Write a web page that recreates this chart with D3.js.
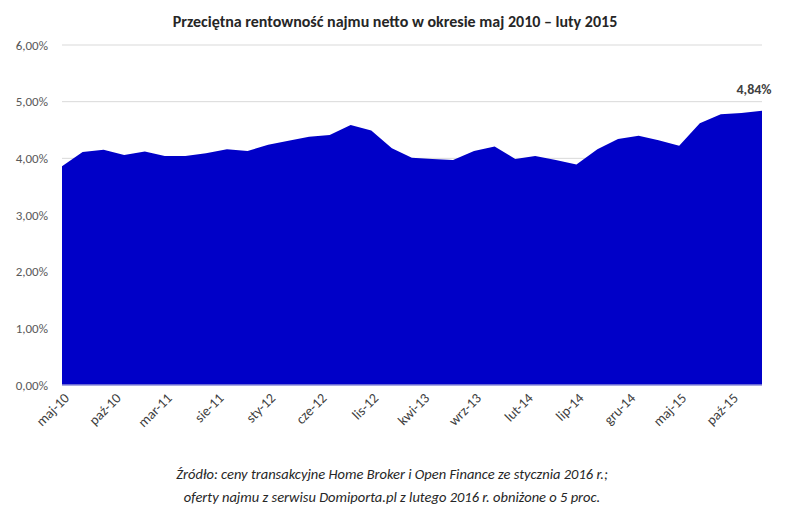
<!DOCTYPE html>
<html>
<head>
<meta charset="utf-8">
<script src="https://cdn.jsdelivr.net/npm/d3@7"></script>
<style>
  body { margin: 0; background: #fff; }
  text { font-family: Carlito, Calibri, "Open Sans", sans-serif; }
</style>
</head>
<body>
<svg id="chart" width="786" height="522"></svg>
<script>
// bi-monthly readings, maj 2010 onwards
const startDate = new Date(2010, 4, 1);
const values = [3.86, 4.11, 4.15, 4.06, 4.12, 4.04, 4.04, 4.09, 4.16, 4.13, 4.24, 4.31,
    4.38, 4.41, 4.59, 4.49, 4.18, 4.01, 3.99, 3.97, 4.13, 4.21, 3.99, 4.04,
    3.97, 3.89, 4.16, 4.34, 4.40, 4.32, 4.22, 4.62, 4.78, 4.80, 4.84];
const tickLabels = ['maj-10', 'paź-10', 'mar-11', 'sie-11', 'sty-12', 'cze-12', 'lis-12',
    'kwi-13', 'wrz-13', 'lut-14', 'lip-14', 'gru-14', 'maj-15', 'paź-15'];
const yTicks = [0, 1, 2, 3, 4, 5, 6];
const lastLabel = '4,84%';

const data = values.map((v, i) => ({ date: d3.timeMonth.offset(startDate, i * 2), v }));
const tickDates = tickLabels.map((l, i) => d3.timeMonth.offset(startDate, i * 5));

const svg = d3.select('#chart');
const margin = { top: 45, left: 62, right: 24, bottom: 137 };
const width = 786 - margin.left - margin.right,
    height = 522 - margin.top - margin.bottom;

const g = svg.append('g').attr('transform', `translate(${margin.left},${margin.top})`);

const x = d3.scaleTime().domain(d3.extent(data, d => d.date)).range([0, width]);
const y = d3.scaleLinear().domain([0, 6]).range([height, 0]);

// grid
g.selectAll('.grid').data(yTicks.slice(1)).enter().append('line')
    .attr('x1', 0).attr('x2', width)
    .attr('y1', d => y(d)).attr('y2', d => y(d))
    .attr('stroke', '#d9d9d9').attr('stroke-width', 1);

g.selectAll('.ylab').data(yTicks).enter().append('text')
    .attr('x', -14).attr('y', d => y(d)).attr('dy', '0.35em')
    .attr('text-anchor', 'end').attr('font-size', 13).attr('fill', '#595959')
    .text(d => d.toFixed(2).replace('.', ',') + '%');

g.append('path')
    .datum(data)
    .attr('fill', '#0000c8')
    .attr('d', d3.area().x(d => x(d.date)).y0(y(0)).y1(d => y(d.v)));

g.append('line').attr('x1', 0).attr('x2', width).attr('y1', y(0)).attr('y2', y(0))
    .attr('stroke', '#8c8cd8').attr('stroke-width', 1.5);

g.selectAll('.xlab').data(tickDates).enter().append('text')
    .attr('transform', d => `translate(${x(d) + 8},${height + 14}) rotate(-45)`)
    .attr('text-anchor', 'end').attr('font-size', 14).attr('fill', '#404040')
    .text((d, i) => tickLabels[i]);

const last = data[data.length - 1];
g.append('text')
    .attr('x', x(last.date) - 8).attr('y', y(last.v) - 17)
    .attr('text-anchor', 'middle').attr('font-size', 14).attr('font-weight', 'bold')
    .attr('fill', '#404040').text(lastLabel);

svg.append('text').attr('x', 395).attr('y', 27).attr('text-anchor', 'middle')
    .attr('font-size', 16).attr('font-weight', 'bold').attr('fill', '#262626')
    .text('Przeciętna rentowność najmu netto w okresie maj 2010 – luty 2015');

const foot = ['Źródło: ceny transakcyjne Home Broker i Open Finance ze stycznia 2016 r.;',
    'oferty najmu z serwisu Domiporta.pl z lutego 2016 r. obniżone o 5 proc.'];
svg.selectAll('.foot').data(foot).enter().append('text')
    .attr('x', 392).attr('y', (d, i) => 479 + i * 23).attr('text-anchor', 'middle')
    .attr('font-size', 14.5).attr('font-style', 'italic').attr('fill', '#262626')
    .text(d => d);
</script>
</body>
</html>
